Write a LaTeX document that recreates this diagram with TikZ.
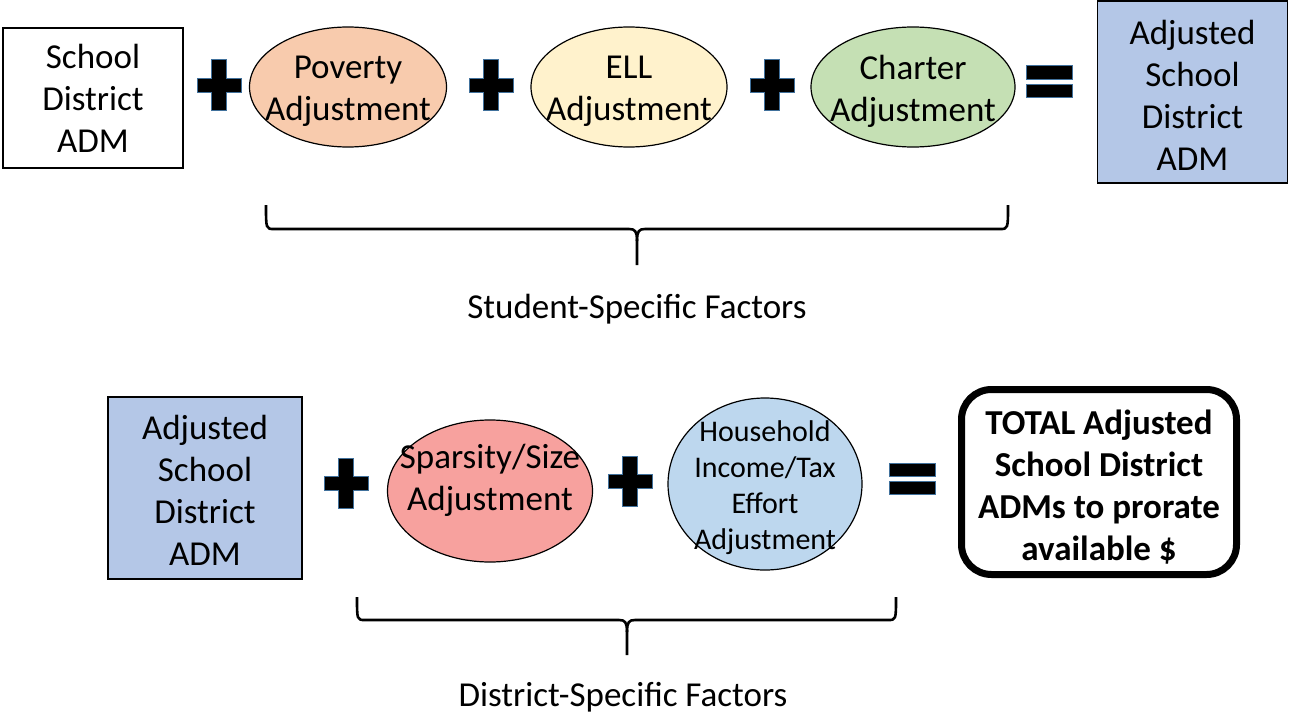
\documentclass[tikz,border=0pt]{standalone}
\usepackage{fontspec}
\setmainfont{Carlito}
\usetikzlibrary{shapes.geometric}
\definecolor{povc}{HTML}{F8CBAD}
\definecolor{ellc}{HTML}{FFF2CC}
\definecolor{charc}{HTML}{C5E0B4}
\definecolor{boxblue}{HTML}{B4C7E7}
\definecolor{sparc}{HTML}{F7A19E}
\definecolor{housec}{HTML}{BDD7EE}
\definecolor{signedge}{HTML}{41719C}
\tikzset{
  every node/.style={font=\fontsize{35}{42}\selectfont, align=center, inner sep=0pt},
  sqbox/.style={draw=black, line width=1.2pt, minimum width=#1},
  oval/.style={ellipse, draw=black, line width=1.2pt},
  bracepath/.style={draw=black, line width=2.6pt, line join=round},
  label/.style={font=\fontsize{35}{42}\selectfont},
  plussign/.pic={
    \filldraw[fill=black, draw=signedge, line width=1pt]
      (-7.5,-25) -- (7.5,-25) -- (7.5,-7) -- (22,-7) -- (22,7) -- (7.5,7) -- (7.5,25)
      -- (-7.5,25) -- (-7.5,7) -- (-22,7) -- (-22,-7) -- (-7.5,-7) -- cycle;
  },
  eqsign/.pic={
    \filldraw[fill=black, draw=signedge, line width=1pt] (-23,-16) rectangle (23,-3);
    \filldraw[fill=black, draw=signedge, line width=1pt] (-23,2) rectangle (23,15);
  }
}
\begin{document}
\begin{tikzpicture}[x=1pt,y=-1pt]
\useasboundingbox (0,0) rectangle (1290,717);
% top row
\node[sqbox=180pt, minimum height=140pt, fill=white] (sd) at (93,98) {School\\District\\ADM};
\pic at (219,85) {plussign};
\node[oval, fill=povc, minimum width=197pt, minimum height=120pt] (pov) at (348,87) {};
\node (povt) at ([yshift=-4pt]pov.center) {Poverty\\Adjustment};
\pic at (491,85) {plussign};
\node[oval, fill=ellc, minimum width=196pt, minimum height=120pt] (ell) at (629,87) {};
\node (ellt) at ([yshift=-4pt]ell.center) {ELL\\Adjustment};
\pic at (772,85) {plussign};
\node[oval, fill=charc, minimum width=204pt, minimum height=120pt] (char) at (913,87) {};
\node (chart) at ([yshift=-4pt]char.center) {Charter\\Adjustment};
\pic at (1049,82) {eqsign};
\node[sqbox=190pt, minimum height=182pt, fill=boxblue] (asd) at (1192.5,92) {};
\node (asdt) at ([yshift=-3pt]asd.center) {Adjusted\\School\\District\\ADM};
% top brace
\coordinate (tbl) at (266,205);
\coordinate (tbr) at (1008,205);
\coordinate (tbt) at (637,265);
\draw[bracepath] (tbl) .. controls (266,229) and (266,229) .. (274,229) -- (629,229)
  .. controls (635,229) and (637,231) .. (637,241) -- (tbt);
\draw[bracepath] (tbr) .. controls (1008,229) and (1008,229) .. (1000,229) -- (645,229)
  .. controls (639,229) and (637,231) .. (637,241);
\node[label] (ssf) at (637,309) {Student-Specific Factors};
% bottom row
\node[sqbox=194pt, minimum height=182pt, fill=boxblue] (asd2) at (205,488) {};
\node (asd2t) at ([yshift=-2pt]asd2.center) {Adjusted\\School\\District\\ADM};
\pic at (346,483) {plussign};
\node[oval, fill=sparc, minimum width=205pt, minimum height=142pt] (spar) at (490,491) {};
\node (spart) at ([yshift=11pt]spar.center) {Sparsity/Size\\Adjustment};
\pic at (630,481) {plussign};
\node[oval, fill=housec, minimum width=194pt, minimum height=172pt] (house) at (765,484) {};
\node[font=\fontsize{30}{36}\selectfont] (houset) at ([yshift=-4pt]house.center) {Household\\Income/Tax\\Effort\\Adjustment};
\pic at (912,479) {eqsign};
\node[draw=black, line width=7pt, rounded corners=30pt, minimum width=275pt, minimum height=185pt] (total) at (1099,482) {};
\node[font=\bfseries\fontsize{35}{42}\selectfont] (totalt) at ([yshift=-5pt]total.center) {TOTAL Adjusted\\School District\\ADMs to prorate\\available \$};
% bottom brace
\coordinate (bbl) at (357,597);
\coordinate (bbr) at (896,597);
\coordinate (bbt) at (627,655);
\draw[bracepath] (bbl) .. controls (357,620) and (357,620) .. (365,620) -- (619,620)
  .. controls (625,620) and (627,622) .. (627,632) -- (bbt);
\draw[bracepath] (bbr) .. controls (896,620) and (896,620) .. (888,620) -- (635,620)
  .. controls (629,620) and (627,622) .. (627,632);
\node[label] (dsf) at (623,697) {District-Specific Factors};
\end{tikzpicture}
\end{document}
